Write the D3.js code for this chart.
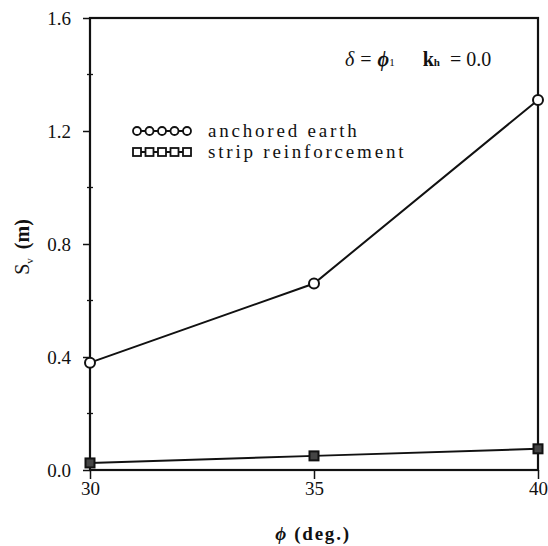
<!DOCTYPE html>
<html>
<head>
<meta charset="utf-8">
<script src="https://cdn.jsdelivr.net/npm/d3@7/dist/d3.min.js"></script>
<style>
    body { margin: 0; background: #fff; }
    svg { display: block; }
    text { font-family: "Liberation Serif", "DejaVu Serif", serif; fill: #111; }
</style>
</head>
<body>
<div id="chart"></div>
<script type="text/javascript">
    // values
    var phi = [30, 35, 40];
    var anchoredEarth = [0.38, 0.66, 1.31];
    var stripReinforcement = [0.025, 0.05, 0.075];
    var xTicks = [30, 35, 40];
    var yTicks = [0.0, 0.4, 0.8, 1.2, 1.6];
    var yMinorTicks = [0.2, 0.6, 1.0, 1.4];
    var seriesNames = ["anchored earth", "strip reinforcement"];

    var width = 548, height = 546;
    var plotLeft = 90, plotRight = 538, plotTop = 18, plotBottom = 470;

    var svg = d3.select("#chart").append("svg")
        .attr("width", width)
        .attr("height", height);

    var x = d3.scaleLinear().domain([30, 40]).range([plotLeft, plotRight]);
    var y = d3.scaleLinear().domain([0, 1.6]).range([plotBottom, plotTop]);

    // frame
    svg.append("rect")
        .attr("x", plotLeft)
        .attr("y", plotTop)
        .attr("width", plotRight - plotLeft)
        .attr("height", plotBottom - plotTop)
        .attr("fill", "none")
        .attr("stroke", "#111")
        .attr("stroke-width", 2.2);

    // y axis
    var yAxis = svg.append("g")
        .attr("transform", "translate(" + plotLeft + ",0)")
        .call(d3.axisLeft(y).tickValues(yTicks).tickFormat(d3.format(".1f")).tickSize(7).tickPadding(12));
    yAxis.select(".domain").remove();
    yAxis.selectAll(".tick line").attr("stroke", "#111").attr("stroke-width", 1.5);
    yAxis.selectAll(".tick text")
        .style("font-family", "Liberation Serif")
        .style("font-size", "19px")
        .attr("fill", "#111");

    svg.append("g").selectAll("line")
        .data(yMinorTicks)
        .enter()
        .append("line")
        .attr("x1", plotLeft - 3)
        .attr("x2", plotLeft + 3)
        .attr("y1", d => y(d))
        .attr("y2", d => y(d))
        .attr("stroke", "#111")
        .attr("stroke-width", 1.3);

    // x axis
    var xAxis = svg.append("g")
        .attr("transform", "translate(0," + plotBottom + ")")
        .call(d3.axisBottom(x).tickValues(xTicks).tickFormat(d3.format("d")).tickSize(9).tickPadding(3));
    xAxis.select(".domain").remove();
    xAxis.selectAll(".tick line").attr("stroke", "#111").attr("stroke-width", 1.5);
    xAxis.selectAll(".tick text")
        .style("font-family", "Liberation Serif")
        .style("font-size", "19px")
        .attr("fill", "#111");

    // axis titles
    var xt = svg.append("text")
        .attr("x", 313)
        .attr("y", 540)
        .attr("text-anchor", "middle")
        .style("font-size", "19px");
    xt.append("tspan").style("font-style", "italic").style("font-weight", "bold").text("\u03D5");
    xt.append("tspan").attr("dx", 8).style("font-weight", "bold").style("letter-spacing", "1.8px").text("(deg.)");

    var yt = svg.append("text")
        .attr("transform", "translate(29,247) rotate(-90)")
        .attr("text-anchor", "middle")
        .style("font-size", "20px");
    yt.append("tspan").text("S");
    yt.append("tspan").attr("dy", 4).style("font-size", "11px").text("v");
    yt.append("tspan").attr("dy", -4).attr("dx", 9).style("font-weight", "bold").text("(m)");

    // annotation
    var note = svg.append("text")
        .attr("x", 345)
        .attr("y", 66)
        .style("font-size", "20px");
    note.append("tspan").style("font-style", "italic").text("\u03B4");
    note.append("tspan").attr("dx", 6).text("=");
    note.append("tspan").attr("dx", 6).style("font-style", "italic").style("font-weight", "bold").text("\u03D5");
    note.append("tspan").style("font-size", "11px").text("1");
    note.append("tspan").attr("dx", 28).style("font-weight", "bold").text("k");
    note.append("tspan").style("font-size", "11px").style("font-weight", "bold").text("h");
    note.append("tspan").attr("dx", 10).text("=");
    note.append("tspan").attr("dx", 5).text("0.0");

    var line = d3.line()
        .x((d, i) => x(phi[i]))
        .y(d => y(d));

    // anchored earth
    svg.append("path")
        .datum(anchoredEarth)
        .attr("d", line)
        .attr("fill", "none")
        .attr("stroke", "#111")
        .attr("stroke-width", 2);
    svg.append("g").selectAll("circle")
        .data(anchoredEarth)
        .enter()
        .append("circle")
        .attr("cx", (d, i) => x(phi[i]))
        .attr("cy", d => y(d))
        .attr("r", 5)
        .attr("fill", "#fff")
        .attr("stroke", "#111")
        .attr("stroke-width", 2);

    // strip reinforcement
    svg.append("path")
        .datum(stripReinforcement)
        .attr("d", line)
        .attr("fill", "none")
        .attr("stroke", "#111")
        .attr("stroke-width", 2);
    svg.append("g").selectAll("rect")
        .data(stripReinforcement)
        .enter()
        .append("rect")
        .attr("x", (d, i) => x(phi[i]) - 4.5)
        .attr("y", d => y(d) - 4.5)
        .attr("width", 9)
        .attr("height", 9)
        .attr("fill", "#444")
        .attr("stroke", "#111")
        .attr("stroke-width", 2);

    // legend
    var legendY = [131, 152];
    var dots = d3.range(5);
    var lg = svg.append("g");
    seriesNames.forEach(function (name, k) {
        lg.append("line")
            .attr("x1", 134)
            .attr("x2", 190)
            .attr("y1", legendY[k])
            .attr("y2", legendY[k])
            .attr("stroke", "#111")
            .attr("stroke-width", 2);
        var m = lg.selectAll(".m" + k)
            .data(dots)
            .enter();
        if (k == 0) {
            m.append("circle")
                .attr("cx", d => 137 + d * 12.5)
                .attr("cy", legendY[k])
                .attr("r", 4)
                .attr("fill", "#fff")
                .attr("stroke", "#111")
                .attr("stroke-width", 1.8);
        } else {
            m.append("rect")
                .attr("x", d => 137 + d * 12.5 - 4)
                .attr("y", legendY[k] - 4)
                .attr("width", 8)
                .attr("height", 8)
                .attr("fill", "#fff")
                .attr("stroke", "#111")
                .attr("stroke-width", 1.8);
        }
        lg.append("text")
            .attr("x", 208)
            .attr("y", legendY[k] + 6)
            .style("font-size", "19px")
            .style("letter-spacing", "2.8px")
            .text(name);
    });
</script>
</body>
</html>
